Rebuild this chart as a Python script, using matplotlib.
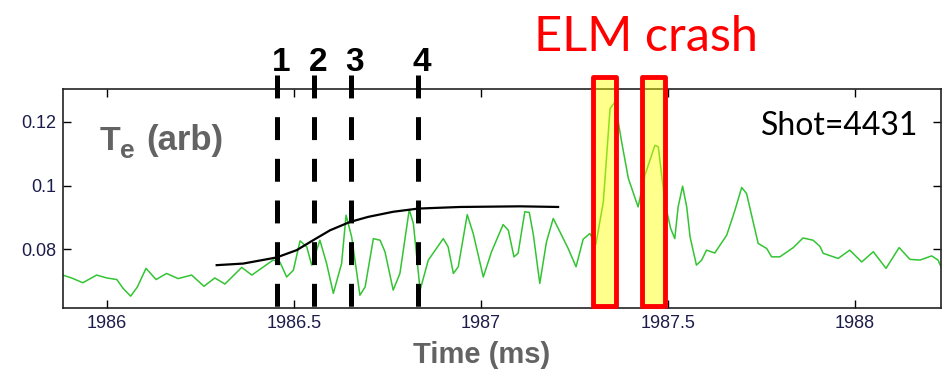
import matplotlib
matplotlib.use("Agg")
import matplotlib.pyplot as plt
import matplotlib.transforms as mtransforms
from matplotlib.patches import Rectangle

plt.rcParams['font.family'] = ['Liberation Sans', 'DejaVu Sans']
plt.rcParams['lines.scale_dashes'] = False

# Te signal (arb)
te_time = [1985.881, 1985.905, 1985.935, 1985.972, 1985.999, 1986.026, 1986.043, 1986.063,
           1986.081, 1986.104, 1986.131, 1986.159, 1986.190, 1986.226, 1986.259, 1986.288,
           1986.315, 1986.360, 1986.387, 1986.444, 1986.462, 1986.480, 1986.498, 1986.516,
           1986.534, 1986.547, 1986.569, 1986.587, 1986.605, 1986.627, 1986.639, 1986.654,
           1986.676, 1986.690, 1986.712, 1986.730, 1986.743, 1986.765, 1986.783, 1986.808,
           1986.819, 1986.837, 1986.859, 1986.899, 1986.912, 1986.926, 1986.939, 1986.963,
           1986.979, 1987.006, 1987.028, 1987.059, 1987.073, 1987.088, 1987.099, 1987.117,
           1987.129, 1987.140, 1987.157, 1987.175, 1987.193, 1987.211, 1987.233, 1987.254,
           1987.273, 1987.291, 1987.307, 1987.327, 1987.345, 1987.358, 1987.376, 1987.394,
           1987.420, 1987.438, 1987.465, 1987.474, 1987.492, 1987.507, 1987.518, 1987.527,
           1987.539, 1987.550, 1987.559, 1987.576, 1987.590, 1987.603, 1987.625, 1987.657,
           1987.679, 1987.697, 1987.710, 1987.741, 1987.764, 1987.777, 1987.799, 1987.835,
           1987.861, 1987.888, 1987.906, 1987.915, 1987.955, 1987.986, 1988.018, 1988.049,
           1988.083, 1988.118, 1988.147, 1988.174, 1988.205, 1988.222, 1988.232]
te_value = [0.0720, 0.0711, 0.0696, 0.0720, 0.0711, 0.0706, 0.0678, 0.0654,
            0.0683, 0.0741, 0.0706, 0.0725, 0.0709, 0.0720, 0.0685, 0.0711,
            0.0692, 0.0744, 0.0720, 0.0767, 0.0761, 0.0714, 0.0735, 0.0827,
            0.0808, 0.0751, 0.0829, 0.0756, 0.0663, 0.0756, 0.0907, 0.0839,
            0.0657, 0.0683, 0.0834, 0.0829, 0.0793, 0.0673, 0.0725, 0.0925,
            0.0881, 0.0673, 0.0767, 0.0834, 0.0808, 0.0725, 0.0746, 0.0909,
            0.0850, 0.0714, 0.0793, 0.0878, 0.0860, 0.0777, 0.0788, 0.0918,
            0.0916, 0.0845, 0.0694, 0.0824, 0.0897, 0.0855, 0.0803, 0.0746,
            0.0832, 0.0850, 0.0816, 0.0949, 0.1241, 0.1261, 0.1136, 0.1022,
            0.0933, 0.1032, 0.1126, 0.1121, 0.0944, 0.0866, 0.0834, 0.0933,
            0.0998, 0.0933, 0.0839, 0.0751, 0.0767, 0.0798, 0.0789, 0.0845,
            0.0923, 0.0994, 0.0975, 0.0819, 0.0803, 0.0777, 0.0777, 0.0806,
            0.0836, 0.0829, 0.0810, 0.0788, 0.0772, 0.0798, 0.0761, 0.0793,
            0.0741, 0.0806, 0.0769, 0.0767, 0.0780, 0.0767, 0.0741]

# hand-drawn trend curve
trend_time = [1986.293, 1986.364, 1986.453, 1986.507, 1986.551, 1986.596, 1986.649,
              1986.698, 1986.765, 1986.832, 1986.944, 1987.104, 1987.206]
trend_value = [0.0751, 0.0756, 0.0775, 0.0798, 0.0829, 0.0860, 0.0886,
               0.0902, 0.0918, 0.0928, 0.0933, 0.0935, 0.0933]

marker_times = [1986.454, 1986.553, 1986.652, 1986.831]
marker_labels = ['1', '2', '3', '4']

elm_windows = [(1987.299, 1987.361), (1987.430, 1987.491)]

xticks = [1986, 1986.5, 1987, 1987.5, 1988]
xtick_labels = ['1986', '1986.5', '1987', '1987.5', '1988']
yticks = [0.08, 0.1, 0.12]
ytick_labels = ['0.08', '0.1', '0.12']

W, H = 947, 376
fig = plt.figure(figsize=(W / 100, H / 100), dpi=100)
ax = fig.add_axes([63 / W, 68 / H, 878 / W, 219 / H])

ax.plot(te_time, te_value, color='#33c433', lw=1.1, zorder=2, solid_joinstyle='round')
ax.plot(trend_time, trend_value, color='black', lw=1.6, zorder=2)

ax.set_xlim(1985.882, 1988.230)
ax.set_ylim(0.0617, 0.1302)
y_top, y_bot = 0.1345, 0.0617

for t in marker_times:
    ax.plot([t, t], [y_top, y_bot], color='black', lw=3.6, dashes=(16.5, 13.5),
            dash_capstyle='butt', clip_on=False, zorder=4)

lab_tr = mtransforms.offset_copy(
    mtransforms.blended_transform_factory(ax.transData, fig.transFigure),
    fig=fig, x=4, y=0, units='dots')
for t, lab in zip(marker_times, marker_labels):
    ax.text(t, 1 - 71 / H, lab, transform=lab_tr, fontsize=24, weight='bold',
            ha='center', va='baseline', clip_on=False)

for x0, x1 in elm_windows:
    ax.add_patch(Rectangle((x0, 0.0624), x1 - x0, 0.1338 - 0.0624,
                           facecolor=(1, 1, 0, 0.45), edgecolor='#ff0000', lw=3.5,
                           joinstyle='round', clip_on=False, zorder=3))

ax.set_xticks(xticks)
ax.set_xticklabels(xtick_labels)
ax.set_yticks(yticks)
ax.set_yticklabels(ytick_labels)
ax.tick_params(direction='in', length=6, width=1, top=True, right=True,
               labelsize=13, labelcolor='#1c1c4a', pad=5)
for sp in ax.spines.values():
    sp.set_linewidth(1.2)
    sp.set_color('#222222')

gray = '#636363'
fig.text(100 / W, 1 - 150 / H, 'T', fontsize=24.5, weight='bold', color=gray, va='baseline')
fig.text(120 / W, 1 - 158 / H, 'e', fontsize=19, weight='bold', color=gray, va='baseline')
fig.text(146 / W, 1 - 150 / H, '(arb)', fontsize=25, weight='bold', color=gray, va='baseline')
fig.text(482 / W, 1 - 363 / H, 'Time (ms)', fontsize=21, weight='bold', color=gray,
         ha='center', va='baseline')
fig.text(646 / W, 1 - 51 / H, 'ELM crash', fontsize=35, family='Lato', color='#ff0000',
         ha='center', va='baseline')
fig.text(761 / W, 1 - 135 / H, 'Shot=4431', fontsize=23, family='Lato', color='black',
         ha='left', va='baseline')

fig.savefig('out.png', dpi=100)
